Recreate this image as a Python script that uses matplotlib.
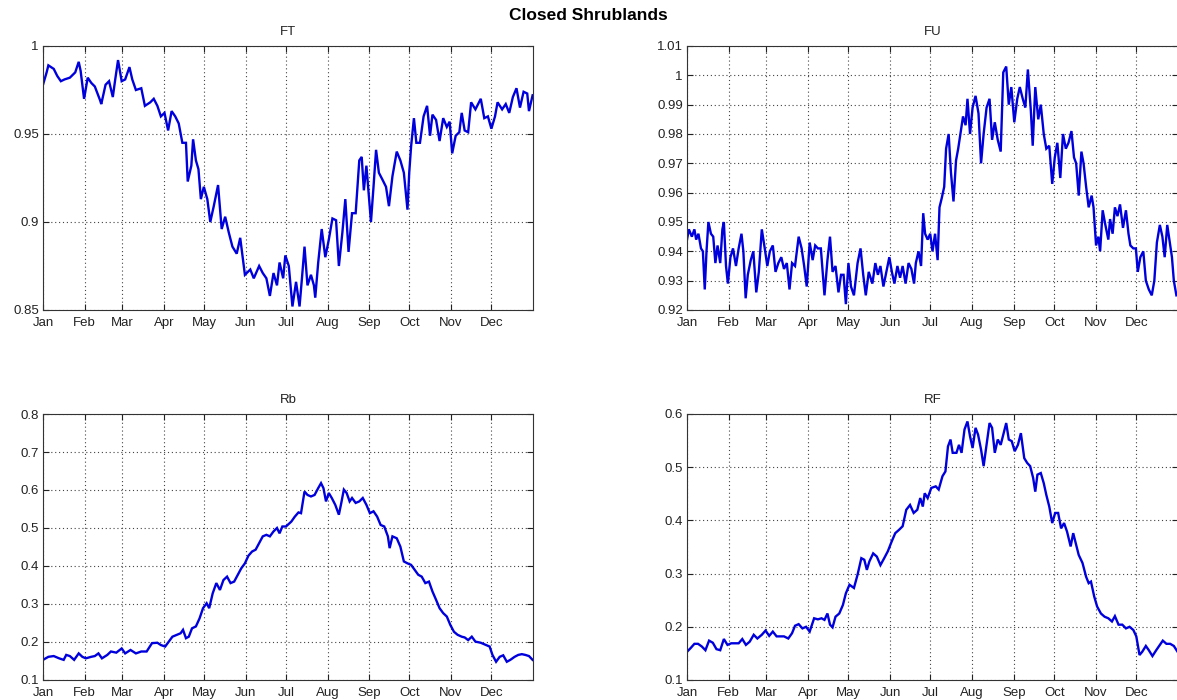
import matplotlib
matplotlib.use("Agg")
import matplotlib.pyplot as plt
from matplotlib.ticker import FuncFormatter

plt.rcParams['font.family'] = ['Liberation Sans', 'DejaVu Sans']

months = ["Jan", "Feb", "Mar", "Apr", "May", "Jun",
          "Jul", "Aug", "Sep", "Oct", "Nov", "Dec"]
month_start = [0, 31, 59, 90, 120, 151, 181, 212, 243, 273, 304, 334]

# (day of year, value)
ft = [(0, 0.978), (2.7, 0.985), (4, 0.989), (8, 0.987), (10.6, 0.983), (13.3, 0.980),
      (16, 0.981), (20, 0.982), (24, 0.985), (26.6, 0.991), (28, 0.986), (30.6, 0.970),
      (33.3, 0.982), (36, 0.979), (38.6, 0.977), (42.6, 0.969), (43.4, 0.967), (46.6, 0.978),
      (49.2, 0.980), (52, 0.971), (53.8, 0.981), (55.9, 0.992), (58.6, 0.980), (61.2, 0.981),
      (64.4, 0.988), (66.5, 0.981), (69.2, 0.975), (73.2, 0.976), (75.9, 0.966), (79.9, 0.968),
      (82.5, 0.970), (85.2, 0.966), (87.8, 0.960), (90.5, 0.962), (93.2, 0.952), (95.8, 0.963),
      (98.5, 0.960), (101.1, 0.956), (103.8, 0.945), (106.5, 0.945), (107.8, 0.923), (110.5, 0.932),
      (111.8, 0.947), (113.9, 0.935), (115.8, 0.930), (117.6, 0.913), (119.8, 0.920), (122.4, 0.913),
      (124.6, 0.900), (127.2, 0.909), (130.4, 0.921), (133.1, 0.896), (135.7, 0.903), (138.4, 0.894),
      (141.1, 0.886), (144.3, 0.882), (146.9, 0.891), (150.4, 0.870), (154.4, 0.873), (157, 0.868),
      (161, 0.875), (163.7, 0.871), (166.4, 0.868), (169, 0.858), (171.7, 0.871), (174.3, 0.864),
      (176.2, 0.877), (178.9, 0.868), (180.5, 0.881), (183.1, 0.875), (185.8, 0.852), (188.5, 0.866),
      (191.1, 0.852), (193, 0.869), (194.8, 0.886), (197, 0.864), (199.6, 0.870), (201.8, 0.864),
      (202.8, 0.857), (205, 0.877), (207.6, 0.896), (210.3, 0.880), (212.9, 0.890), (215.6, 0.902),
      (218.3, 0.901), (220.4, 0.875), (223, 0.894), (225.2, 0.913), (227.6, 0.883), (230.2, 0.905),
      (232.9, 0.905), (235.6, 0.935), (237.4, 0.937), (239, 0.918), (240.9, 0.932), (242.2, 0.920),
      (244.3, 0.900), (246.2, 0.920), (248.1, 0.941), (250.2, 0.928), (252.9, 0.924), (255.5, 0.920),
      (257.7, 0.909), (260.3, 0.926), (263.5, 0.940), (266.2, 0.935), (268.8, 0.928), (271.5, 0.907),
      (272.8, 0.928), (274.2, 0.943), (276.3, 0.959), (278.1, 0.945), (280.8, 0.945), (283.5, 0.960),
      (286.1, 0.966), (288.3, 0.949), (290.1, 0.961), (292.8, 0.958), (295.4, 0.946), (298.1, 0.959),
      (300.8, 0.954), (302.9, 0.957), (304.8, 0.939), (307.4, 0.949), (310.1, 0.951), (311.9, 0.962),
      (314.1, 0.952), (316.7, 0.951), (318.9, 0.968), (322.1, 0.964), (326.1, 0.970), (328.7, 0.959),
      (331.4, 0.960), (334, 0.953), (336.7, 0.960), (338.6, 0.968), (342, 0.964), (344.7, 0.967),
      (347.3, 0.962), (350, 0.971), (352.7, 0.976), (355.3, 0.965), (358, 0.974), (360.7, 0.973),
      (362, 0.963), (364.7, 0.972)]

fu = [(0, 0.944), (1.4, 0.9475), (3.6, 0.945), (5.5, 0.9475), (6.8, 0.944), (8.5, 0.946),
      (10.4, 0.941), (11.8, 0.940), (13.2, 0.927), (14.5, 0.940), (15.9, 0.950), (17.8, 0.946),
      (19.5, 0.945), (21.1, 0.936), (22.7, 0.942), (24.7, 0.936), (26.3, 0.9475), (27.4, 0.950),
      (29, 0.935), (30.4, 0.929), (32.3, 0.938), (34.2, 0.941), (36.4, 0.935), (38.4, 0.941),
      (40.5, 0.946), (41.9, 0.940), (43.6, 0.924), (45.2, 0.932), (47.4, 0.937), (49.3, 0.940),
      (51.5, 0.926), (53.4, 0.933), (55.6, 0.9475), (57.8, 0.941), (59.7, 0.935), (61.6, 0.940),
      (63.8, 0.942), (65.8, 0.933), (67.9, 0.936), (70.1, 0.938), (72.1, 0.934), (74.2, 0.936),
      (76.2, 0.927), (78.1, 0.936), (80.3, 0.935), (83, 0.945), (85.2, 0.941), (87.1, 0.935),
      (89, 0.928), (91.2, 0.943), (93.4, 0.937), (95.3, 0.942), (97.3, 0.941), (99.5, 0.941),
      (102.2, 0.925), (104.4, 0.937), (106.3, 0.945), (108.2, 0.933), (110.4, 0.935), (112.6, 0.926),
      (114.5, 0.932), (116.4, 0.932), (118.1, 0.922), (120, 0.936), (121.9, 0.928), (124.1, 0.925),
      (126.8, 0.936), (129, 0.941), (131, 0.932), (132.9, 0.925), (135.1, 0.933), (137.8, 0.929),
      (140, 0.936), (141.9, 0.932), (143.8, 0.935), (146, 0.928), (148.2, 0.933), (150.4, 0.938),
      (152.3, 0.933), (154.2, 0.929), (156.4, 0.935), (158.4, 0.931), (160.3, 0.935), (162.5, 0.929),
      (164.7, 0.936), (166.8, 0.934), (168.8, 0.929), (170.1, 0.936), (172.1, 0.940), (174, 0.935),
      (175.6, 0.953), (177, 0.946), (178.9, 0.944), (180.8, 0.946), (182.5, 0.940), (184.4, 0.946),
      (186.3, 0.937), (187.7, 0.955), (189.3, 0.958), (191.2, 0.962), (192.6, 0.975), (194.5, 0.980),
      (196.2, 0.967), (198.1, 0.957), (200, 0.971), (201.6, 0.975), (203.6, 0.981), (205.2, 0.986),
      (207.1, 0.983), (208.5, 0.992), (210.4, 0.980), (212.3, 0.989), (214.5, 0.993), (216.7, 0.987),
      (218.6, 0.970), (220.5, 0.980), (222.7, 0.989), (224.9, 0.992), (226.8, 0.978), (228.8, 0.984),
      (231, 0.978), (233.2, 0.974), (235.1, 1.001), (237.3, 1.003), (239.2, 0.990), (241.1, 0.996),
      (243.3, 0.984), (245.5, 0.992), (247.4, 0.996), (249.6, 0.992), (251.5, 0.989), (253.4, 1.002),
      (255.6, 0.988), (257, 0.976), (258.9, 0.996), (261.1, 0.985), (263, 0.990), (265.2, 0.980),
      (267.1, 0.975), (269.3, 0.976), (271.5, 0.963), (273.4, 0.972), (275.3, 0.977), (277.5, 0.965),
      (279.5, 0.980), (281.6, 0.975), (283.6, 0.977), (285.8, 0.981), (287.7, 0.972), (289.3, 0.970),
      (291.2, 0.959), (293.2, 0.974), (294.8, 0.970), (296.7, 0.962), (298.6, 0.955), (300.8, 0.959),
      (302.2, 0.955), (304.1, 0.942), (305.8, 0.945), (307.1, 0.940), (309, 0.954), (311, 0.949),
      (313.2, 0.944), (314.5, 0.951), (316.4, 0.946), (318.1, 0.955), (320, 0.952), (321.9, 0.956),
      (324.1, 0.948), (326.3, 0.954), (328.2, 0.946), (329.6, 0.942), (331.8, 0.941), (333.7, 0.941),
      (335.1, 0.933), (337, 0.938), (339.2, 0.940), (341.1, 0.930), (343.3, 0.927), (345.5, 0.925),
      (347.4, 0.930), (349.3, 0.943), (351.5, 0.949), (353.4, 0.945), (355.1, 0.938), (357, 0.949),
      (358.9, 0.943), (360.5, 0.938), (361.9, 0.930), (363.8, 0.925)]

rb = [(0, 0.153), (4, 0.161), (8, 0.163), (12, 0.157), (15.4, 0.153), (17.3, 0.166),
      (20, 0.163), (23.2, 0.153), (26.6, 0.170), (29.3, 0.161), (31.9, 0.157), (35.9, 0.161),
      (38.6, 0.163), (41.3, 0.170), (43.9, 0.157), (47.9, 0.166), (50.6, 0.175), (54.6, 0.172),
      (58.6, 0.183), (61.2, 0.170), (65.2, 0.179), (69.2, 0.170), (73.2, 0.175), (77.2, 0.175),
      (81.2, 0.197), (85.2, 0.198), (87.8, 0.192), (91, 0.188), (93.7, 0.201), (96.4, 0.214),
      (99.8, 0.219), (102.5, 0.223), (104.3, 0.232), (106.5, 0.210), (108.6, 0.214), (111, 0.236),
      (113.9, 0.241), (116.6, 0.262), (119.2, 0.289), (121.9, 0.302), (123.8, 0.289), (126.4, 0.328),
      (129.1, 0.355), (131.8, 0.337), (134.4, 0.363), (137.1, 0.372), (139.7, 0.355), (142.4, 0.359),
      (145.1, 0.377), (147.7, 0.394), (150.4, 0.407), (153, 0.427), (155.7, 0.438), (158.4, 0.443),
      (161, 0.460), (163.7, 0.478), (166.4, 0.482), (169, 0.478), (171.7, 0.491), (174.3, 0.500),
      (176.2, 0.486), (178.3, 0.504), (181, 0.504), (183.1, 0.511), (185, 0.517), (187.6, 0.530),
      (190.3, 0.541), (192.2, 0.539), (194.8, 0.596), (197, 0.587), (199.6, 0.583), (202.3, 0.587),
      (205, 0.605), (207.1, 0.618), (208.9, 0.605), (210.8, 0.570), (212.9, 0.592), (215.1, 0.579),
      (217.7, 0.561), (220.4, 0.535), (222.2, 0.566), (224.1, 0.601), (226.2, 0.592), (228.4, 0.570),
      (230.2, 0.579), (232.9, 0.566), (235.6, 0.570), (238.2, 0.579), (240.9, 0.561), (243.5, 0.539),
      (246.2, 0.544), (248.9, 0.530), (251.5, 0.508), (254.2, 0.504), (256.9, 0.478), (258.2, 0.447),
      (260.3, 0.478), (263.5, 0.473), (266.2, 0.451), (268.8, 0.412), (271.5, 0.407), (274.2, 0.403),
      (276.8, 0.390), (279.5, 0.377), (282.1, 0.372), (284.8, 0.355), (287.5, 0.359), (290.1, 0.333),
      (292.8, 0.311), (295.4, 0.289), (298.1, 0.276), (300.8, 0.267), (303.4, 0.245), (306.1, 0.227),
      (308.8, 0.219), (311.9, 0.214), (314.1, 0.212), (316.7, 0.205), (319.4, 0.214), (322.1, 0.201),
      (326.1, 0.198), (330, 0.192), (332.7, 0.188), (334.8, 0.166), (337.5, 0.148), (340.2, 0.161),
      (342.8, 0.165), (345.5, 0.148), (348.1, 0.153), (351.3, 0.161), (354, 0.166), (356.7, 0.168),
      (359.3, 0.166), (362, 0.163), (364.7, 0.153)]

rf = [(0, 0.153), (2.7, 0.160), (5.5, 0.168), (8.2, 0.168), (11, 0.163), (13.7, 0.156),
      (16.4, 0.174), (19.2, 0.170), (21.9, 0.158), (24.7, 0.156), (27.4, 0.177), (30.1, 0.166),
      (32.9, 0.169), (35.6, 0.169), (38.4, 0.169), (41.1, 0.177), (43.8, 0.166), (46.6, 0.172),
      (49.6, 0.185), (52.3, 0.178), (55.6, 0.185), (58.4, 0.193), (61.1, 0.183), (63.8, 0.191),
      (66.6, 0.182), (69.3, 0.182), (72.1, 0.182), (75.3, 0.178), (78.1, 0.188), (80.3, 0.202),
      (83, 0.205), (85.8, 0.197), (88.5, 0.200), (91.2, 0.191), (94.5, 0.216), (97.3, 0.214),
      (100, 0.216), (102.2, 0.213), (104.4, 0.225), (106.3, 0.204), (108.2, 0.199), (110.4, 0.219),
      (113.2, 0.225), (115.9, 0.241), (118.1, 0.263), (120.8, 0.279), (124.1, 0.273), (126.8, 0.298),
      (129.6, 0.329), (131.8, 0.326), (133.7, 0.307), (135.6, 0.323), (138.4, 0.338), (141.1, 0.332),
      (143.8, 0.316), (146.6, 0.329), (149.3, 0.342), (152.1, 0.360), (154.8, 0.376), (157.5, 0.382),
      (160.3, 0.389), (163, 0.420), (165.8, 0.429), (168.5, 0.414), (171.2, 0.420), (173.4, 0.442),
      (175.3, 0.426), (176.7, 0.451), (178.9, 0.442), (181.6, 0.461), (184.9, 0.464), (187.1, 0.458),
      (189.9, 0.483), (192.1, 0.492), (194, 0.539), (195.9, 0.552), (197.5, 0.527), (200.3, 0.527),
      (202.2, 0.542), (204.1, 0.527), (206.3, 0.571), (208.5, 0.586), (210.4, 0.558), (212.3, 0.536),
      (214.5, 0.574), (216.4, 0.561), (218.6, 0.533), (220.5, 0.502), (222.7, 0.542), (224.9, 0.583),
      (226.8, 0.574), (228.8, 0.527), (231, 0.552), (233.2, 0.542), (235.1, 0.561), (237.3, 0.583),
      (239.2, 0.552), (241.4, 0.549), (243.6, 0.530), (246, 0.542), (248.2, 0.564), (250.7, 0.517),
      (252.9, 0.508), (255.1, 0.502), (257.3, 0.480), (258.9, 0.454), (260.5, 0.486), (263, 0.489),
      (265.2, 0.470), (267.1, 0.448), (269.3, 0.426), (271.5, 0.395), (273.7, 0.414), (275.9, 0.414),
      (278.1, 0.385), (280.3, 0.395), (282.5, 0.379), (285.2, 0.351), (287.1, 0.376), (289, 0.357),
      (291.2, 0.335), (294, 0.320), (296.7, 0.294), (298.6, 0.282), (300.3, 0.285), (302.7, 0.257),
      (304.9, 0.238), (307.7, 0.225), (310.4, 0.219), (313.2, 0.216), (315.9, 0.210), (318.1, 0.220),
      (320.8, 0.204), (323.6, 0.204), (326.3, 0.197), (329, 0.200), (331.8, 0.194), (334, 0.182),
      (336.4, 0.147), (338.4, 0.153), (341.1, 0.164), (343.3, 0.156), (346, 0.145), (348.8, 0.156),
      (351.5, 0.166), (353.7, 0.174), (356.4, 0.168), (359.2, 0.168), (361.9, 0.164), (364.7, 0.153)]

W, H = 1177, 700
fig = plt.figure(figsize=(W / 100, H / 100), dpi=100)

# axes boxes in pixels: left, top, right, bottom
panels = [
    ("FT", ft, (43, 46, 533, 310), (0.85, 1.0), [0.85, 0.9, 0.95, 1.0]),
    ("FU", fu, (687, 46, 1178, 310), (0.92, 1.01),
     [0.92, 0.93, 0.94, 0.95, 0.96, 0.97, 0.98, 0.99, 1.0, 1.01]),
    ("Rb", rb, (43, 414, 533, 680), (0.1, 0.8), [0.1, 0.2, 0.3, 0.4, 0.5, 0.6, 0.7, 0.8]),
    ("RF", rf, (687, 414, 1178, 680), (0.1, 0.6), [0.1, 0.2, 0.3, 0.4, 0.5, 0.6]),
]

fmt = FuncFormatter(lambda v, p: "%g" % round(v, 4))

for name, data, (l, t, r, b), ylim, yticks in panels:
    ax = fig.add_axes([l / W, 1 - b / H, (r - l) / W, (b - t) / H])
    days = [d for d, v in data]
    vals = [v for d, v in data]
    ax.plot(days, vals, color="#0000dd", lw=1.7, solid_joinstyle="miter")
    ax.set_xlim(0, 365)
    ax.set_ylim(*ylim)
    ax.set_xticks(month_start)
    ax.set_xticklabels(months)
    ax.set_yticks(yticks)
    ax.yaxis.set_major_formatter(fmt)
    ax.grid(True, color="#444444", linestyle=(0, (1, 2.5)), lw=0.8)
    ax.tick_params(direction="in", length=4, width=0.8, top=True, right=True,
                   labelsize=9.5, colors="#222222", pad=3)
    ax.tick_params(axis="x", pad=5)
    for s in ax.spines.values():
        s.set_color("#333333")
        s.set_linewidth(0.8)
    ax.set_title(name, fontsize=9.5, pad=8, color="#222222")

fig.text(0.5, 1 - 16 / H, "Closed Shrublands", ha="center", va="center",
         fontsize=12.5, fontweight="bold")

fig.savefig("out.png", dpi=100)
